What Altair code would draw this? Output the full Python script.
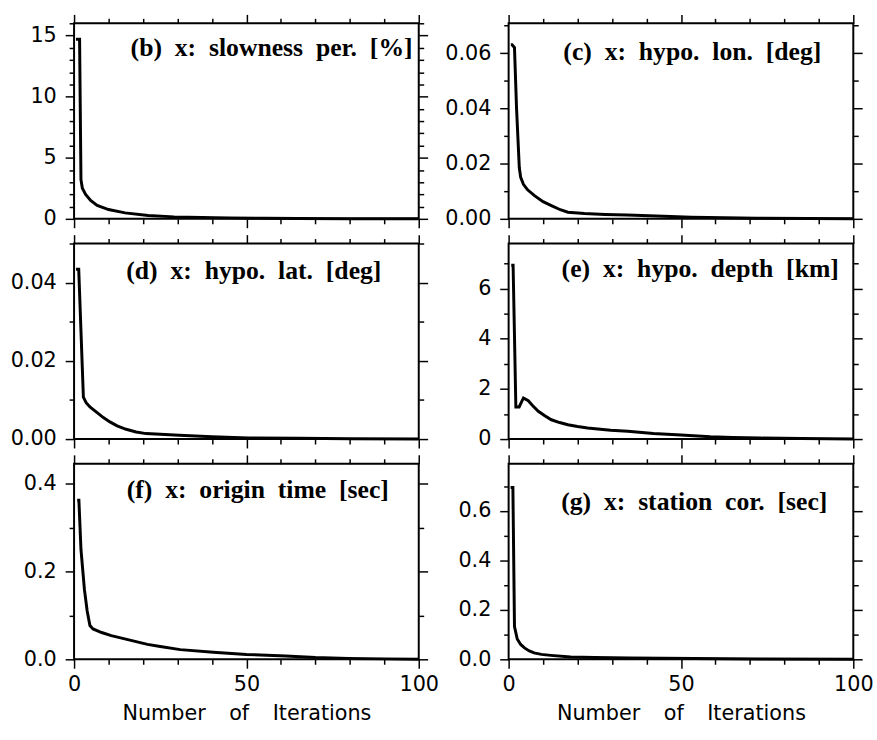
import altair as alt
import pandas as pd

# ---------------- data ----------------
b_iter = [0.55, 1.6, 2.0, 2.4, 3.35, 4.8, 6.7, 10, 14.8, 21.5, 29, 37, 45, 55, 65, 80, 100]
b_vals = [14.7, 14.7, 3.2, 2.5, 2.0, 1.5, 1.1, 0.76, 0.49, 0.28, 0.16, 0.11, 0.08, 0.05, 0.03, 0.01, 0.0]

c_iter = [0.65, 1.0, 1.7, 2.3, 3.1, 3.5, 4.3, 5.5, 7.6, 10, 12.4, 15, 17.2, 22, 28, 34.4, 45, 53, 72, 100]
c_vals = [0.063, 0.063, 0.062, 0.040, 0.0185, 0.015, 0.0125, 0.0105, 0.0083, 0.0062, 0.0048, 0.0033,
          0.0024, 0.0019, 0.0016, 0.0014, 0.0009, 0.0006, 0.0002, 0.0]

d_iter = [0.55, 1.35, 2.7, 3.5, 4.6, 6.5, 8.5, 10.4, 12.5, 15.1, 18, 20.9, 30.5, 40, 50.6, 65, 80, 100]
d_vals = [0.0434, 0.0434, 0.0107, 0.0093, 0.0082, 0.0069, 0.0055, 0.0044, 0.0034, 0.0025, 0.0018,
          0.0014, 0.0010, 0.0006, 0.0003, 0.0002, 0.0001, 0.0]

e_iter = [0.76, 1.3, 2.1, 3.05, 4.3, 5.7, 7, 8.6, 10.5, 12.4, 14.8, 17.2, 20, 22.9, 29.6, 34.6, 42, 50,
          58.5, 65, 73, 85, 100]
e_vals = [6.93, 6.93, 1.28, 1.28, 1.64, 1.53, 1.33, 1.11, 0.93, 0.77, 0.66, 0.57, 0.50, 0.44, 0.35, 0.31,
          0.22, 0.16, 0.09, 0.06, 0.04, 0.02, 0.0]

f_iter = [0.9, 1.4, 2.0, 3.0, 3.8, 4.6, 5.5, 8, 10.8, 15, 21.3, 25, 30.8, 40.4, 50, 61.4, 70, 79.6, 90, 100]
f_vals = [0.362, 0.362, 0.25, 0.159, 0.11, 0.077, 0.069, 0.061, 0.054, 0.046, 0.034, 0.029, 0.022,
          0.016, 0.011, 0.0075, 0.004, 0.002, 0.001, 0.0]

g_iter = [0.57, 1.24, 1.7, 2.5, 3.5, 4.6, 6, 7.4, 9.5, 12.2, 18, 25, 35, 54, 73, 100]
g_vals = [0.694, 0.694, 0.132, 0.082, 0.06, 0.046, 0.034, 0.026, 0.02, 0.016, 0.009, 0.007, 0.005,
          0.003, 0.001, 0.0]

panel_labels = {
    "b": "(b)\u00a0\u00a0x:\u00a0\u00a0slowness\u00a0\u00a0per.\u00a0\u00a0[%]",
    "c": "(c)\u00a0\u00a0x:\u00a0\u00a0hypo.\u00a0\u00a0lon.\u00a0\u00a0[deg]",
    "d": "(d)\u00a0\u00a0x:\u00a0\u00a0hypo.\u00a0\u00a0lat.\u00a0\u00a0[deg]",
    "e": "(e)\u00a0\u00a0x:\u00a0\u00a0hypo.\u00a0\u00a0depth\u00a0\u00a0[km]",
    "f": "(f)\u00a0\u00a0x:\u00a0\u00a0origin\u00a0\u00a0time\u00a0\u00a0[sec]",
    "g": "(g)\u00a0\u00a0x:\u00a0\u00a0station\u00a0\u00a0cor.\u00a0\u00a0[sec]",
}
x_title = "Number\u2002\u00a0\u00a0of\u2002\u00a0\u00a0Iterations"

x_ticks = [0, 10, 20, 30, 40, 50, 60, 70, 80, 90, 100]

# per-panel: domain max, minor step, major step, label format
y_domains = {"b": 16, "c": 0.0708, "d": 0.05, "e": 7.8, "f": 0.445, "g": 0.79}
y_minor = {"b": 1, "c": 0.01, "d": 0.01, "e": 1, "f": 0.1, "g": 0.1}
y_major = {"b": 5, "c": 0.02, "d": 0.02, "e": 2, "f": 0.2, "g": 0.2}
y_format = {"b": "d", "c": ".2f", "d": ".2f", "e": "d", "f": ".1f", "g": ".1f"}

series = {
    "b": (b_iter, b_vals), "c": (c_iter, c_vals), "d": (d_iter, d_vals),
    "e": (e_iter, e_vals), "f": (f_iter, f_vals), "g": (g_iter, g_vals),
}

# label placement inside each panel (pixels relative to plot area)
label_pos = {"b": (200, 33), "c": (186, 37), "d": (182, 36), "e": (194, 34), "f": (186, 35), "g": (188, 47)}

W, H = 349, 198
MAJ, MIN = 9, 5


def tick_size(test):
    return {"condition": {"test": test, "value": MAJ}, "value": MIN}


def panel(key, bottom):
    it, vals = series[key]
    df = pd.DataFrame({"it": it, "v": vals})
    top = y_domains[key]
    step = y_minor[key]
    n = int(round(top / step + 1e-9))
    y_ticks = [round(i * step, 6) for i in range(n + 1) if i * step <= top + 1e-9]
    maj = y_major[key]
    ytest = f"abs(datum.value/{maj} - round(datum.value/{maj})) < 1e-6"
    xtest = "abs(datum.value/50 - round(datum.value/50)) < 1e-6"

    xs = alt.Scale(domain=[0, 100], nice=False, zero=False)
    ys = alt.Scale(domain=[0, top], nice=False, zero=False)

    x_axis = alt.Axis(orient="bottom", values=x_ticks, tickSize=tick_size(xtest), labels=bottom,
                      labelExpr=f"{xtest} ? datum.label : ''", format="d", labelPadding=6,
                      titlePadding=8)
    y_axis = alt.Axis(orient="left", values=y_ticks, tickSize=tick_size(ytest),
                      labelExpr=f"{ytest} ? datum.label : ''", format=y_format[key])
    line = alt.Chart(df).mark_line(color="black", strokeWidth=3, strokeJoin="miter").encode(
        x=alt.X("it:Q", scale=xs, axis=x_axis, title=x_title if bottom else None),
        y=alt.Y("v:Q", scale=ys, axis=y_axis, title=None),
    )
    ghost = alt.Chart(df).mark_point(opacity=0).encode(
        x=alt.X("it:Q", scale=xs, title=None,
                axis=alt.Axis(orient="top", values=x_ticks, tickSize=tick_size(xtest), labels=False)),
        y=alt.Y("v:Q", scale=ys, title=None,
                axis=alt.Axis(orient="right", values=y_ticks, tickSize=tick_size(ytest), labels=False)),
    )
    lx, ly = label_pos[key]
    txt = alt.Chart(pd.DataFrame({"t": [panel_labels[key]]})).mark_text(
        font="Liberation Serif", fontWeight="bold", fontSize=26, align="center",
        baseline="alphabetic", color="black"
    ).encode(text="t:N", x=alt.value(lx), y=alt.value(ly))
    return alt.layer(line, ghost, txt).resolve_axis(x="independent", y="independent").properties(
        width=W, height=H)


order = [("b", False), ("c", False), ("d", False), ("e", False), ("f", True), ("g", True)]
chart = alt.concat(
    *[panel(k, bt) for k, bt in order],
    columns=2, spacing={"row": 25, "column": 91}, bounds="flush",
).properties(
    padding={"left": 9, "top": 7, "right": 2, "bottom": 2},
    background="white",
).configure_view(stroke="black", strokeWidth=2).configure_axis(
    labelFont="DejaVu Sans", labelFontSize=21, labelColor="black",
    titleFont="DejaVu Sans", titleFontSize=21, titleFontWeight="normal", titleColor="black",
    tickColor="black", tickWidth=1.5, domain=False, grid=False, labelPadding=9,
    labelFlush=False, labelOverlap=False,
)

chart.save("out.html", embed_options={"renderer": "svg", "actions": False})
